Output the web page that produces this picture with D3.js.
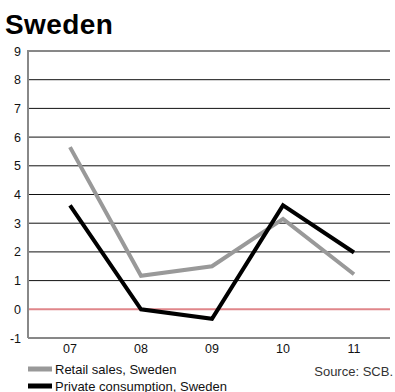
<!DOCTYPE html>
<html>
<head>
<meta charset="utf-8">
<script src="https://cdn.jsdelivr.net/npm/d3@7"></script>
<style>
  html, body { margin: 0; padding: 0; background: #fff; }
  svg { display: block; font-family: "Liberation Sans", Arial, Helvetica, sans-serif; }
</style>
</head>
<body>
<svg id="chart" width="395" height="392"></svg>
<script>
const years = ["07", "08", "09", "10", "11"];
const retailSales = [5.65, 1.17, 1.5, 3.15, 1.22];
const privateConsumption = [3.62, 0.0, -0.33, 3.62, 1.98];
const yTicks = [-1, 0, 1, 2, 3, 4, 5, 6, 7, 8, 9];

const seriesList = [
  { name: "Retail sales, Sweden", values: retailSales, color: "#999999" },
  { name: "Private consumption, Sweden", values: privateConsumption, color: "#000000" }
];

const svg = d3.select("#chart");
const plotLeft = 28, plotRight = 390, plotTop = 51, plotBottom = 338;

const x = d3.scalePoint().domain(years).range([70, 354]);
const y = d3.scaleLinear().domain([-1, 9]).range([plotBottom, plotTop]);

// Title
svg.append("text")
  .attr("x", 5).attr("y", 33.5)
  .attr("font-size", 28).attr("font-weight", "bold")
  .attr("letter-spacing", 0.4)
  .attr("fill", "#000")
  .text("Sweden");

// Horizontal grid lines
svg.append("g").selectAll("line")
  .data(yTicks.filter(d => d !== 0))
  .join("line")
  .attr("x1", plotLeft).attr("x2", plotRight)
  .attr("y1", d => y(d)).attr("y2", d => y(d))
  .attr("stroke", "#111").attr("stroke-width", 1);

// Zero line
svg.append("line")
  .attr("x1", plotLeft).attr("x2", plotRight)
  .attr("y1", y(0)).attr("y2", y(0))
  .attr("stroke", "#e0868a").attr("stroke-width", 2);

// Left axis line
svg.append("line")
  .attr("x1", plotLeft).attr("x2", plotLeft)
  .attr("y1", plotTop - 1).attr("y2", plotBottom)
  .attr("stroke", "#888").attr("stroke-width", 2);

// Y tick labels
svg.append("g").selectAll("text")
  .data(yTicks)
  .join("text")
  .attr("x", 21).attr("y", d => y(d) + 4.5)
  .attr("text-anchor", "end")
  .attr("font-size", 12.5).attr("fill", "#111")
  .text(d => d);

// X tick labels
svg.append("g").selectAll("text")
  .data(years)
  .join("text")
  .attr("x", d => x(d)).attr("y", 353)
  .attr("text-anchor", "middle")
  .attr("font-size", 12.5).attr("fill", "#111")
  .text(d => d);

// Series lines
const line = d3.line()
  .x((d, i) => x(years[i]))
  .y(d => y(d));

svg.append("g").selectAll("path")
  .data(seriesList)
  .join("path")
  .attr("d", s => line(s.values))
  .attr("fill", "none")
  .attr("stroke", s => s.color)
  .attr("stroke-width", 4)
  .attr("stroke-linejoin", "miter");

// Legend
const legend = svg.append("g").selectAll("g")
  .data(seriesList)
  .join("g")
  .attr("transform", (d, i) => `translate(28, ${369 + i * 17})`);
legend.append("rect")
  .attr("x", 0).attr("y", -2.5)
  .attr("width", 24).attr("height", 5)
  .attr("fill", d => d.color);
legend.append("text")
  .attr("x", 27).attr("y", 4.5)
  .attr("font-size", 13).attr("fill", "#111")
  .text(d => d.name);

// Source note
svg.append("text")
  .attr("x", 393).attr("y", 376)
  .attr("text-anchor", "end")
  .attr("font-size", 13).attr("fill", "#333")
  .text("Source: SCB.");
</script>
</body>
</html>
